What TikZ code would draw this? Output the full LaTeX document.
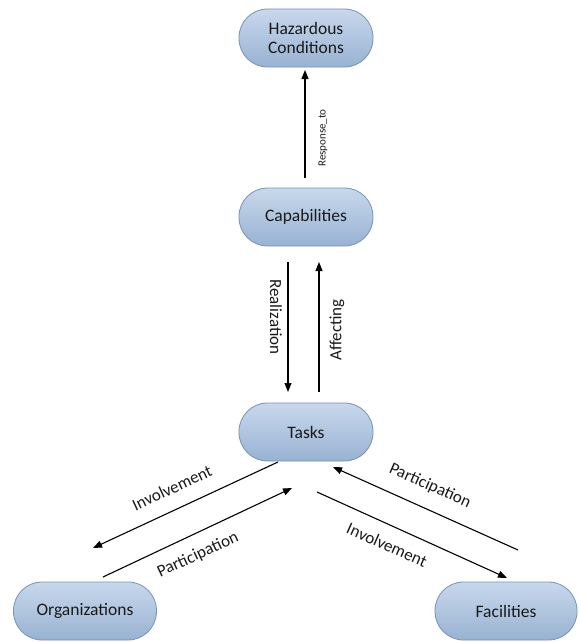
\documentclass[tikz,border=0pt]{standalone}
\usepackage{fontspec}
\setmainfont{Carlito}
\usetikzlibrary{arrows.meta}
\definecolor{boxtop}{RGB}{200,216,236}
\definecolor{boxbot}{RGB}{152,178,210}
\definecolor{boxline}{RGB}{120,146,182}
\definecolor{txt}{RGB}{25,25,25}
\tikzset{
  concept/.style={draw=boxline, line width=0.8pt, top color=boxtop, bottom color=boxbot,
    rounded corners=28.5pt, minimum width=134pt, minimum height=58pt, inner sep=2pt,
    align=center, font=\fontsize{17.5}{19.5}\selectfont, text=txt},
  rel/.style={line width=1.1pt, -{Triangle[length=9pt,width=7pt]}},
  lab/.style={font=\fontsize{17}{19}\selectfont, text=txt, inner sep=0pt},
  smalllab/.style={font=\fontsize{11}{13}\selectfont, text=txt, inner sep=0pt}
}
\begin{document}
\begin{tikzpicture}[x=1pt,y=-1pt]
\useasboundingbox (0,0) rectangle (578,642);
\node[concept] (haz) at (306,38) {Hazardous\\Conditions};
\node[concept] (cap) at (306,217) {Capabilities};
\node[concept] (task) at (306,432) {Tasks};
\node[concept, minimum width=143pt] (org) at (85,611) {Organizations};
\node[concept, minimum width=142pt] (fac) at (506,611) {Facilities};

\coordinate (r1) at (305,178); \coordinate (r2) at (305,70);
\draw[rel] (r1) -- (r2);
\node[smalllab, rotate=90] (lresp) at (323,138) {Response\_to};

\coordinate (a1) at (288,262); \coordinate (a2) at (288,392);
\draw[rel] (a1) -- (a2);
\node[lab, rotate=-90] (lreal) at (276,317) {Realization};

\coordinate (b1) at (319,392); \coordinate (b2) at (319,262);
\draw[rel] (b1) -- (b2);
\node[lab, rotate=90] (laff) at (337,330) {Affecting};

\coordinate (c1) at (278,462); \coordinate (c2) at (93,548);
\draw[rel] (c1) -- (c2);
\node[lab, rotate=25] (linv1) at (172,488) {Involvement};

\coordinate (d1) at (103,577); \coordinate (d2) at (292,488);
\draw[rel] (d1) -- (d2);
\node[lab, rotate=25] (lpar1) at (198,555) {Participation};

\coordinate (e1) at (518,550); \coordinate (e2) at (333,467);
\draw[rel] (e1) -- (e2);
\node[lab, rotate=-24] (lpar2) at (430,486) {Participation};

\coordinate (f1) at (317,492); \coordinate (f2) at (507,578);
\draw[rel] (f1) -- (f2);
\node[lab, rotate=-24] (linv2) at (387,545) {Involvement};
\end{tikzpicture}
\end{document}
